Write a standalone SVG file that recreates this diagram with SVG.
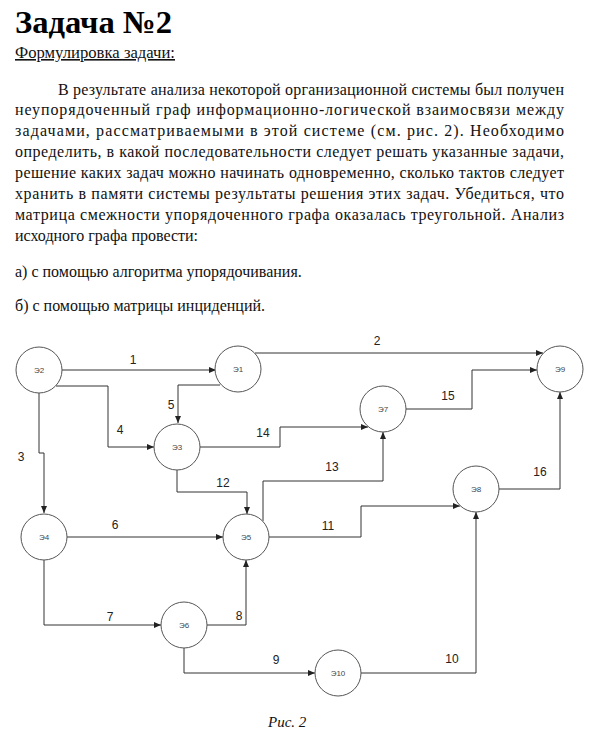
<svg xmlns="http://www.w3.org/2000/svg" width="600" height="736" viewBox="0 0 600 736">
<style>
.body{font-family:"Liberation Serif","Times New Roman",serif;font-size:16px;fill:#111}
.title{font-family:"Liberation Serif","Times New Roman",serif;font-size:32px;font-weight:bold;fill:#000}
.cap{font-family:"Liberation Serif","Times New Roman",serif;font-size:15px;font-style:italic;fill:#111}
.node circle{fill:#fff;stroke:#555;stroke-width:1}
.node text{font-family:"Liberation Sans",Arial,sans-serif;font-size:8px;fill:#444;text-anchor:middle}
.edges path{fill:none;stroke:#333;stroke-width:1;marker-end:url(#arr)}
.lbl text{font-family:"Liberation Sans",Arial,sans-serif;font-size:12px;fill:#222;text-anchor:middle}
</style>
<defs>
<marker id="arr" markerWidth="8" markerHeight="8" refX="7" refY="4" orient="auto" markerUnits="userSpaceOnUse">
<path d="M0,1 L7,4 L0,7 Z" fill="#222"/>
</marker>
</defs>
<rect width="600" height="736" fill="#fff"/>
<text class="title" x="15" y="33" textLength="157" lengthAdjust="spacingAndGlyphs">Задача №2</text>
<text class="body" x="15" y="58" text-decoration="underline" textLength="160" lengthAdjust="spacingAndGlyphs">Формулировка задачи:</text>
<text class="body" x="58" y="95" textLength="506" lengthAdjust="spacing">В результате анализа некоторой организационной системы был получен</text>
<text class="body" x="15" y="115" textLength="549" lengthAdjust="spacing">неупорядоченный граф информационно-логической взаимосвязи между</text>
<text class="body" x="15" y="136" textLength="549" lengthAdjust="spacing">задачами, рассматриваемыми в этой системе (см. рис. 2). Необходимо</text>
<text class="body" x="15" y="157" textLength="549" lengthAdjust="spacing">определить, в какой последовательности следует решать указанные задачи,</text>
<text class="body" x="15" y="178" textLength="549" lengthAdjust="spacing">решение каких задач можно начинать одновременно, сколько тактов следует</text>
<text class="body" x="15" y="199" textLength="549" lengthAdjust="spacing">хранить в памяти системы результаты решения этих задач. Убедиться, что</text>
<text class="body" x="15" y="220" textLength="549" lengthAdjust="spacing">матрица смежности упорядоченного графа оказалась треугольной. Анализ</text>
<text class="body" x="15" y="241">исходного графа провести:</text>
<text class="body" x="15" y="277">а) с помощью алгоритма упорядочивания.</text>
<text class="body" x="15" y="311">б) с помощью матрицы инциденций.</text>

<g class="edges">
<path d="M62,370 H216"/>
<path d="M255,353 H543"/>
<path d="M39,393 V453 H44 V513"/>
<path d="M56,386 H108 V447 H154"/>
<path d="M220,385 H178 V423"/>
<path d="M200,447 H280 V427 H368"/>
<path d="M177,470 V492 H247 V514"/>
<path d="M263,521 V481 H383 V432"/>
<path d="M406,409 H472 V370 H537"/>
<path d="M499,489 H560 V392"/>
<path d="M67,537 H223"/>
<path d="M44,560 V625 H161"/>
<path d="M207,625 H246 V560"/>
<path d="M184,648 V673 H315"/>
<path d="M361,673 H476 V512"/>
<path d="M269,537 H361 V506 H460"/>
</g>
<g class="lbl">
<text x="133" y="364">1</text>
<text x="377" y="345">2</text>
<text x="21" y="461">3</text>
<text x="120" y="434">4</text>
<text x="171" y="409">5</text>
<text x="263" y="437">14</text>
<text x="223" y="487">12</text>
<text x="332" y="471">13</text>
<text x="448" y="400">15</text>
<text x="540" y="476">16</text>
<text x="115" y="529">6</text>
<text x="110" y="621">7</text>
<text x="239" y="620">8</text>
<text x="276" y="664">9</text>
<text x="452" y="663">10</text>
<text x="328" y="530">11</text>
</g>

<g id="n2" class="node"><circle cx="39" cy="370" r="23"/><text x="39" y="373">Э2</text></g>
<g id="n1" class="node"><circle cx="238" cy="369" r="23"/><text x="238" y="372">Э1</text></g>
<g id="n3" class="node"><circle cx="177" cy="447" r="23"/><text x="177" y="450">Э3</text></g>
<g id="n9" class="node"><circle cx="560" cy="369" r="23"/><text x="560" y="372">Э9</text></g>
<g id="n7" class="node"><circle cx="383" cy="409" r="23"/><text x="383" y="412">Э7</text></g>
<g id="n8" class="node"><circle cx="476" cy="489" r="23"/><text x="476" y="492">Э8</text></g>
<g id="n4" class="node"><circle cx="44" cy="537" r="23"/><text x="44" y="540">Э4</text></g>
<g id="n5" class="node"><circle cx="246" cy="537" r="23"/><text x="246" y="540">Э5</text></g>
<g id="n6" class="node"><circle cx="184" cy="625" r="23"/><text x="184" y="628">Э6</text></g>
<g id="n10" class="node"><circle cx="338" cy="673" r="23"/><text x="338" y="676">Э10</text></g>

<text class="cap" x="268" y="727">Рис. 2</text>
</svg>
